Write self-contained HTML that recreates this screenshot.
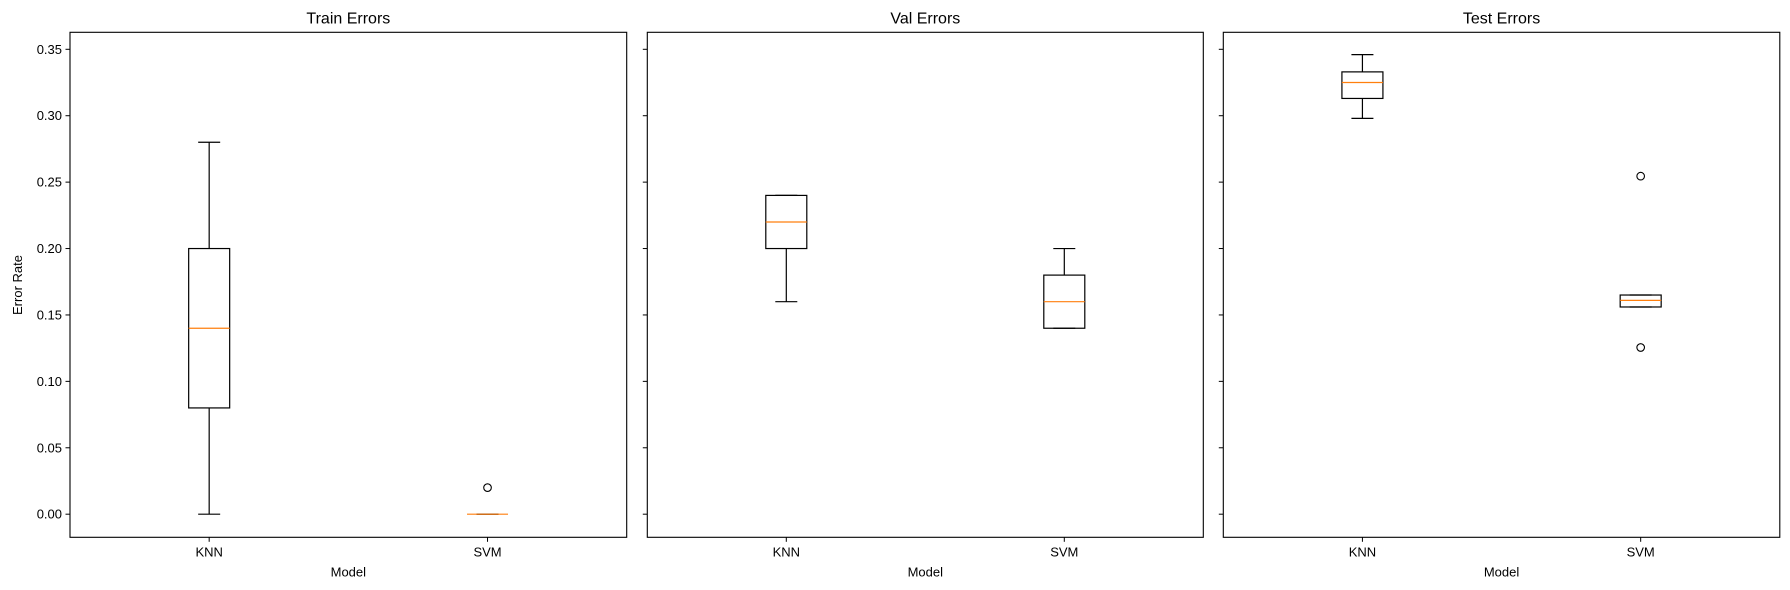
<!DOCTYPE html>
<html><head><meta charset="utf-8"><style>
html,body{margin:0;padding:0;background:#fff;}
svg{display:block;font-family:"Liberation Sans","DejaVu Sans",sans-serif;}
</style></head><body>
<svg id="chart" width="1790" height="590" viewBox="0 0 1790 590"></svg>
<script>
const panelTitles = ["Train Errors", "Val Errors", "Test Errors"];
const categories = ["KNN", "SVM"];
// five-number summaries [low whisker, q1, median, q3, high whisker]
const trainKNN = [0.0, 0.08, 0.14, 0.20, 0.28];
const trainSVM = [0.0, 0.0, 0.0, 0.0, 0.0];
const valKNN = [0.16, 0.20, 0.22, 0.24, 0.24];
const valSVM = [0.14, 0.14, 0.16, 0.18, 0.20];
const testKNN = [0.298, 0.313, 0.325, 0.333, 0.346];
const testSVM = [0.156, 0.156, 0.161, 0.165, 0.165];
const trainFliers = [[], [0.02]];
const valFliers = [[], []];
const testFliers = [[], [0.2545, 0.1255]];
const yTicks = [0.00, 0.05, 0.10, 0.15, 0.20, 0.25, 0.30, 0.35];
const yTickLabels = ["0.00","0.05","0.10","0.15","0.20","0.25","0.30","0.35"];

const panels = [
  {x0:70, x1:626.7, data:[trainKNN, trainSVM], fliers:trainFliers},
  {x0:647.3, x1:1203.3, data:[valKNN, valSVM], fliers:valFliers},
  {x0:1223.3, x1:1779.8, data:[testKNN, testSVM], fliers:testFliers}
];
const plotTop = 32.3, plotBottom = 537.3;
const yMin = -0.0174, yMax = 0.3628;
function yScale(v){ return plotBottom - (v - yMin) / (yMax - yMin) * (plotBottom - plotTop); }
function xScale(p, i){ return p.x0 + (p.x1 - p.x0) * (0.25 + 0.5 * i); }

const svg = document.getElementById('chart');
const NS = "http://www.w3.org/2000/svg";
function mk(tag, attrs, parent){
  const e = document.createElementNS(NS, tag);
  for (const k in attrs) e.setAttribute(k, attrs[k]);
  (parent || svg).appendChild(e);
  return e;
}

panels.forEach((p, pi) => {
  const g = mk('g', {});
  
  
  const frame = mk('rect', {x:p.x0, y:plotTop, width:p.x1-p.x0, height:plotBottom-plotTop, fill:'none', stroke:'#000', 'stroke-width':1.1}, g);
  
  
  const t = mk('text', {x:(p.x0+p.x1)/2, y:plotTop-9, 'text-anchor':'middle', 'font-size':16, fill:'#000'}, g);
  t.textContent = panelTitles[pi];
  
  
  yTicks.forEach((v, ti) => {
    const y = yScale(v);
    mk('line', {x1:p.x0-4.5, x2:p.x0, y1:y, y2:y, stroke:'#000', 'stroke-width':1}, g);
    if (pi === 0) {
      const l = mk('text', {x:p.x0-8, y:y+4.5, 'text-anchor':'end', 'font-size':13, fill:'#000'}, g);
      l.textContent = yTickLabels[ti];
      
      
    }
  });
  categories.forEach((c, i) => {
    const x = xScale(p, i);
    mk('line', {x1:x, x2:x, y1:plotBottom, y2:plotBottom+4.5, stroke:'#000', 'stroke-width':1}, g);
    const l = mk('text', {x:x, y:plotBottom+19, 'text-anchor':'middle', 'font-size':13, fill:'#000'}, g);
    l.textContent = c;
    
    
  });
  const xl = mk('text', {x:(p.x0+p.x1)/2, y:plotBottom+39, 'text-anchor':'middle', 'font-size':13, fill:'#000'}, g);
  xl.textContent = 'Model';
  
  
  p.data.forEach((d, i) => {
    const x = xScale(p, i);
    const bw = 41, cw = 22;
    const bg = mk('g', {}, g);
    
    
    mk('line', {x1:x, x2:x, y1:yScale(d[0]), y2:yScale(d[1]), stroke:'#000', 'stroke-width':1.2}, bg);
    mk('line', {x1:x, x2:x, y1:yScale(d[3]), y2:yScale(d[4]), stroke:'#000', 'stroke-width':1.2}, bg);
    mk('line', {x1:x-cw/2, x2:x+cw/2, y1:yScale(d[0]), y2:yScale(d[0]), stroke:'#000', 'stroke-width':1.2}, bg);
    mk('line', {x1:x-cw/2, x2:x+cw/2, y1:yScale(d[4]), y2:yScale(d[4]), stroke:'#000', 'stroke-width':1.2}, bg);
    mk('rect', {x:x-bw/2, y:yScale(d[3]), width:bw, height:Math.max(0, yScale(d[1])-yScale(d[3])), fill:'none', stroke:'#000', 'stroke-width':1.2}, bg);
    mk('line', {x1:x-bw/2, x2:x+bw/2, y1:yScale(d[2]), y2:yScale(d[2]), stroke:'#ff7f0e', 'stroke-width':1.2}, bg);
    p.fliers[i].forEach(f => {
      const c = mk('circle', {cx:x, cy:yScale(f), r:3.8, fill:'none', stroke:'#000', 'stroke-width':1.1}, bg);
      
      
    });
  });
});
const yt = mk('text', {x:0, y:0, 'text-anchor':'middle', 'font-size':13, fill:'#000', transform:'translate(22,285) rotate(-90)'});
yt.textContent = 'Error Rate';


</script>
</body></html>
